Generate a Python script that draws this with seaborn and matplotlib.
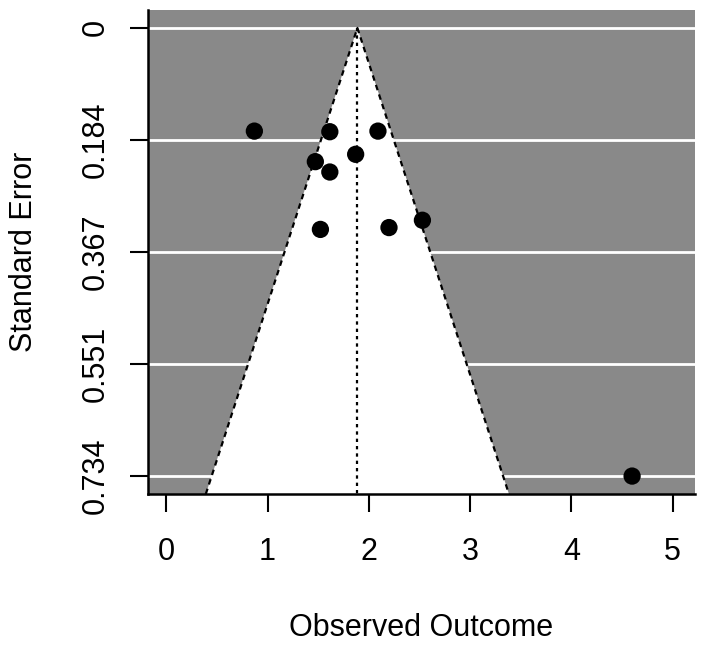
import seaborn as sns
import numpy as np
import pandas as pd
import matplotlib.pyplot as plt

# study estimates
outcomes = [0.87, 1.615, 2.09, 1.87, 1.472, 1.615, 1.522, 2.199, 2.529, 4.599]
std_errors = [0.169, 0.170, 0.169, 0.207, 0.219, 0.236, 0.330, 0.327, 0.315, 0.734]
estimate = 1.887
se_ticks = [0, 0.1835, 0.367, 0.5505, 0.734]
se_labels = ["0", "0.184", "0.367", "0.551", "0.734"]
x_ticks = [0, 1, 2, 3, 4, 5]

data = pd.DataFrame({"Observed Outcome": outcomes, "Standard Error": std_errors})

sns.set_style("ticks")
plt.rcParams["font.family"] = ["Liberation Sans", "DejaVu Sans"]
plt.rcParams["text.color"] = "black"
plt.rcParams["axes.labelcolor"] = "black"
plt.rcParams["xtick.color"] = "black"
plt.rcParams["ytick.color"] = "black"

fig = plt.figure(figsize=(7.09, 6.47), dpi=100)
ax = fig.add_axes([148 / 709, 1 - 494 / 647, (695 - 148) / 709, (494 - 10) / 647])

gray = "#898989"
ax.set_facecolor(gray)

y_top = -0.04 * se_ticks[-1]
y_bot = se_ticks[-1] * 1.04
ax.set_xlim(-0.18, 5.22)
ax.set_ylim(y_bot, y_top)

# white gridlines at the SE ticks
for t in se_ticks:
    ax.axhline(t, color="white", lw=2, zorder=1)

# pseudo confidence funnel
half = 1.96 * y_bot
ax.fill([estimate, estimate - half, estimate + half], [0, y_bot, y_bot],
        color="white", zorder=2, lw=0)
ax.plot([estimate - half, estimate, estimate + half], [y_bot, 0, y_bot],
        color="black", ls=(0, (2.5, 2)), lw=1.6, zorder=3)
ax.plot([estimate, estimate], [0, y_bot], color="black",
        ls=(0, (1.5, 1.8)), lw=1.6, zorder=3)

sns.scatterplot(data=data, x="Observed Outcome", y="Standard Error", ax=ax,
                color="black", s=155, edgecolor="none", zorder=4)

ax.set_xticks(x_ticks)
ax.set_xticklabels([str(v) for v in x_ticks], fontsize=22)
ax.set_yticks(se_ticks)
ax.set_yticklabels(se_labels, fontsize=22, rotation=90, va="center")
ax.tick_params(axis="both", length=13, width=1.5, direction="out")
ax.tick_params(axis="x", pad=18)
ax.tick_params(axis="y", pad=14)

for side in ["top", "right"]:
    ax.spines[side].set_visible(False)
for side in ["left", "bottom"]:
    ax.spines[side].set_linewidth(1.8)
    ax.spines[side].set_color("black")

ax.set_xlabel("Observed Outcome", fontsize=22, labelpad=33)
ax.set_ylabel("Standard Error", fontsize=22, labelpad=30)

fig.savefig("out.png", dpi=100)
